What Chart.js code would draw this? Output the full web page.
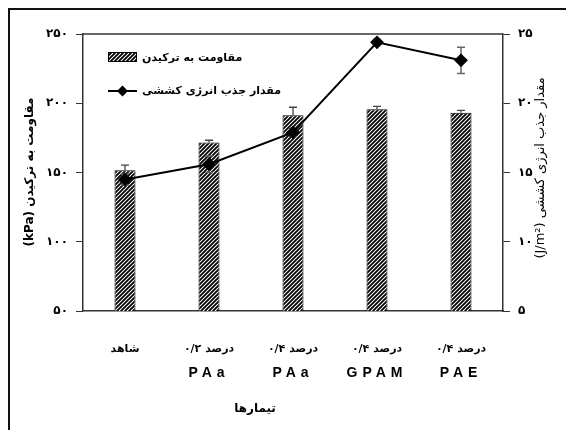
<!DOCTYPE html>
<html>
<head>
<meta charset="utf-8">
<script src="https://cdn.jsdelivr.net/npm/chart.js@4.4.0/dist/chart.umd.min.js"></script>
<style>
html, body { margin: 0; padding: 0; background: #fff; }
#wrap { width: 566px; height: 430px; position: relative; }
</style>
</head>
<body>
<div id="wrap"><canvas id="chart" width="566" height="430"></canvas></div>
<script>
// treatments (two line labels under each bar)
const categories = ['شاهد', 'درصد ۰/۲', 'درصد ۰/۴', 'درصد ۰/۴', 'درصد ۰/۴'];
const categoryCodes = ['', 'PAa', 'PAa', 'GPAM', 'PAE'];

// burst strength (kPa) - bars, left axis
const burstValues = [151.7, 171.6, 191.3, 195.6, 193.1];
const burstErrors = [3.6, 1.7, 5.8, 2.2, 1.8];

// tensile energy absorption (J/m2) - line, right axis
const energyValues = [14.5, 15.6, 17.9, 24.4, 23.1];
const energyErrors = [0.4, 0.6, 0.3, 0.2, 0.95];

const leftTicks = ['۵۰', '۱۰۰', '۱۵۰', '۲۰۰', '۲۵۰'];
const rightTicks = ['۵', '۱۰', '۱۵', '۲۰', '۲۵'];

const faFont = '"DejaVu Sans", sans-serif';
const latFont = '"Liberation Sans", Arial, sans-serif';

function makeHatch() {
    const c = document.createElement('canvas');
    c.width = 4;
    c.height = 4;
    const g = c.getContext('2d');
    g.fillStyle = '#fff';
    g.fillRect(0, 0, 4, 4);
    g.strokeStyle = '#000';
    g.lineWidth = 1.8;
    g.beginPath();
    g.moveTo(0, 4); g.lineTo(4, 0);
    g.moveTo(-1, 1); g.lineTo(1, -1);
    g.moveTo(3, 5); g.lineTo(5, 3);
    g.stroke();
    return g.createPattern(c, 'repeat');
}

const hatch = makeHatch();

// outer frame + top border of the plot area
const framePlugin = {
    id: 'frame',
    beforeDraw(chart) {
        const ctx = chart.ctx;
        ctx.save();
        ctx.fillStyle = '#fff';
        ctx.fillRect(0, 0, chart.width, chart.height);
        ctx.strokeStyle = '#111';
        ctx.lineWidth = 2;
        ctx.beginPath();
        ctx.moveTo(9, chart.height);
        ctx.lineTo(9, 9);
        ctx.lineTo(chart.width, 9);
        ctx.stroke();
        ctx.restore();
    },
    afterDraw(chart) {
        const a = chart.chartArea;
        const ctx = chart.ctx;
        ctx.save();
        ctx.strokeStyle = '#333';
        ctx.lineWidth = 1.5;
        ctx.beginPath();
        ctx.moveTo(a.left, a.top);
        ctx.lineTo(a.right, a.top);
        ctx.stroke();
        ctx.restore();
    }
};

// error bars: upper only for bars, both sides for the line
const errorBars = {
    id: 'errorBars',
    afterDatasetDraw(chart, args) {
        if (args.meta.type !== 'bar') return;
        const ctx = chart.ctx;
        const y = chart.scales.y;
        const y2 = chart.scales.y2;
        const x = chart.scales.x;
        ctx.save();
        ctx.strokeStyle = '#444';
        ctx.lineWidth = 1.3;
        args.meta.data.forEach((bar, i) => {
            const top = y.getPixelForValue(burstValues[i]);
            const hi = y.getPixelForValue(burstValues[i] + burstErrors[i]);
            ctx.beginPath();
            ctx.moveTo(bar.x, top);
            ctx.lineTo(bar.x, hi);
            ctx.moveTo(bar.x - 4, hi);
            ctx.lineTo(bar.x + 4, hi);
            ctx.stroke();
        });
        ctx.strokeStyle = '#666';
        ctx.lineWidth = 1.5;
        energyValues.forEach((v, i) => {
            const px = x.getPixelForValue(i);
            const hi = y2.getPixelForValue(v + energyErrors[i]);
            const lo = y2.getPixelForValue(v - energyErrors[i]);
            ctx.beginPath();
            ctx.moveTo(px, lo);
            ctx.lineTo(px, hi);
            ctx.moveTo(px - 4, hi);
            ctx.lineTo(px + 4, hi);
            ctx.moveTo(px - 4, lo);
            ctx.lineTo(px + 4, lo);
            ctx.stroke();
        });
        ctx.restore();
    }
};

// category labels, axis titles and legend
const textPlugin = {
    id: 'texts',
    afterDraw(chart) {
        const ctx = chart.ctx;
        const x = chart.scales.x;
        const a = chart.chartArea;
        ctx.save();
        ctx.fillStyle = '#000';
        ctx.textAlign = 'center';
        ctx.textBaseline = 'middle';

        categories.forEach((c, i) => {
            const px = x.getPixelForValue(i);
            ctx.font = 'bold 11px ' + faFont;
            ctx.fillText(c, px, 349);
            if (categoryCodes[i]) {
                ctx.font = 'bold 14px ' + latFont;
                ctx.letterSpacing = '5px';
                ctx.fillText(categoryCodes[i], px, 373);
                ctx.letterSpacing = '0px';
            }
        });

        ctx.font = 'bold 12px ' + faFont;
        ctx.fillText('تیمارها', 255, 409);

        // left axis title
        ctx.save();
        ctx.translate(30, 172);
        ctx.rotate(-Math.PI / 2);
        ctx.font = 'bold 12px ' + faFont;
        ctx.fillText('(kPa) مقاومت به ترکیدن', 0, 0);
        ctx.restore();

        // right axis title
        ctx.save();
        ctx.translate(541, 168);
        ctx.rotate(-Math.PI / 2);
        ctx.font = '13px ' + faFont;
        ctx.fillText('(J/m²) مقدار جذب انرژی کششی', 0, 0);
        ctx.restore();

        // legend
        const ds = chart.data.datasets;
        const bx = a.left + 25;
        ctx.textAlign = 'left';
        ctx.font = 'bold 11px ' + faFont;

        ctx.fillStyle = hatch;
        ctx.fillRect(bx, 52, 29, 10);
        ctx.strokeStyle = '#000';
        ctx.lineWidth = 1;
        ctx.strokeRect(bx + 0.5, 52.5, 28, 9);
        ctx.fillStyle = '#000';
        ctx.fillText(ds[1].label, bx + 34, 58);

        ctx.lineWidth = 2;
        ctx.beginPath();
        ctx.moveTo(bx, 91);
        ctx.lineTo(bx + 29, 91);
        ctx.stroke();
        ctx.beginPath();
        ctx.moveTo(bx + 14.5, 85.5);
        ctx.lineTo(bx + 20, 91);
        ctx.lineTo(bx + 14.5, 96.5);
        ctx.lineTo(bx + 9, 91);
        ctx.closePath();
        ctx.fill();
        ctx.fillText(ds[0].label, bx + 34, 91);

        ctx.restore();
    }
};

new Chart(document.getElementById('chart'), {
    type: 'bar',
    data: {
        labels: categories,
        datasets: [{
            type: 'line',
            label: 'مقدار جذب انرژی کششی',
            data: energyValues,
            yAxisID: 'y2',
            order: 1,
            borderColor: '#000',
            borderWidth: 2,
            pointStyle: 'rectRot',
            pointRadius: 5.5,
            pointBackgroundColor: '#000',
            pointBorderColor: '#000',
            tension: 0
        }, {
            label: 'مقاومت به ترکیدن',
            data: burstValues,
            yAxisID: 'y',
            order: 2,
            backgroundColor: hatch,
            borderColor: '#000',
            borderWidth: 1,
            categoryPercentage: 1,
            barPercentage: 0.25
        }]
    },
    options: {
        responsive: false,
        animation: false,
        layout: { padding: { top: 34, left: 0, right: 0, bottom: 0 } },
        plugins: {
            legend: { display: false },
            tooltip: { enabled: false }
        },
        scales: {
            x: {
                afterFit: function(scale) { scale.height = 119; },
                grid: { display: false },
                border: { display: true, color: '#333', width: 1.5 },
                ticks: { display: false }
            },
            y: {
                position: 'left',
                min: 50,
                max: 250,
                afterFit: function(scale) { scale.width = 83; },
                grid: { display: true, drawOnChartArea: false, drawTicks: true, tickLength: 7, color: '#333' },
                border: { display: true, color: '#333', width: 1.5 },
                ticks: {
                    stepSize: 50,
                    padding: 8,
                    color: '#000',
                    font: { family: faFont, size: 12, weight: 'bold' },
                    callback: function(v) { return leftTicks[(v - 50) / 50]; }
                }
            },
            y2: {
                position: 'right',
                min: 5,
                max: 25,
                afterFit: function(scale) { scale.width = 63; },
                grid: { display: true, drawOnChartArea: false, drawTicks: true, tickLength: 7, color: '#333' },
                border: { display: true, color: '#333', width: 1.5 },
                ticks: {
                    stepSize: 5,
                    padding: 8,
                    color: '#000',
                    font: { family: faFont, size: 12, weight: 'bold' },
                    callback: function(v) { return rightTicks[(v - 5) / 5]; }
                }
            }
        }
    },
    plugins: [framePlugin, errorBars, textPlugin]
});
</script>
</body>
</html>
